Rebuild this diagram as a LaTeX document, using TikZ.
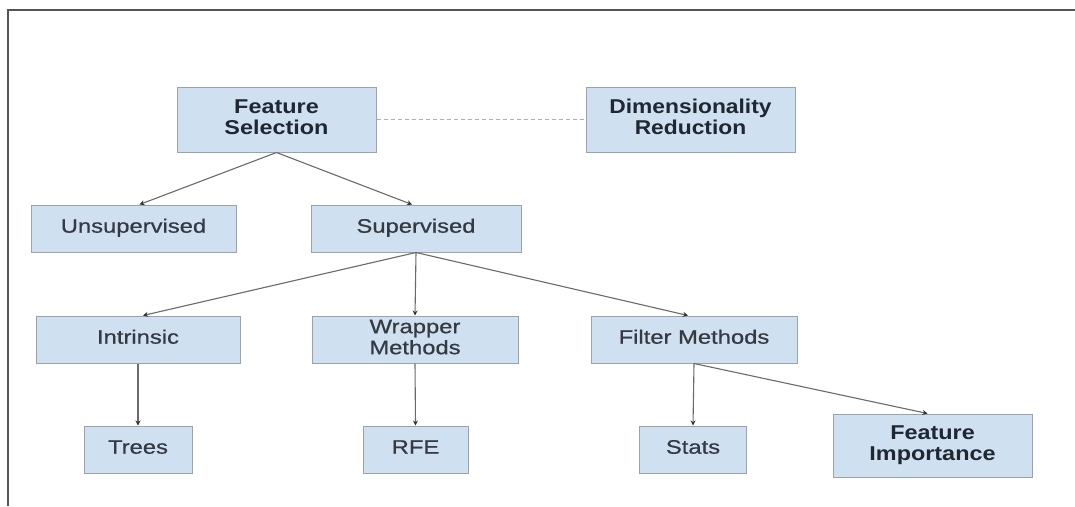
\documentclass[tikz,border=0pt]{standalone}
\usepackage{fontspec}
\setmainfont{Liberation Sans}
\newfontfamily\labelfont[FakeBold=0.6]{Liberation Sans}
\usetikzlibrary{arrows.meta,calc}
\definecolor{boxfill}{HTML}{CFE0F1}
\definecolor{boxline}{HTML}{9AA3AD}
\definecolor{linkgray}{HTML}{6A6A6A}
\definecolor{tipgray}{HTML}{333333}
\definecolor{framegray}{HTML}{555555}
\definecolor{dashgray}{HTML}{B0B0B0}
\definecolor{txt}{HTML}{353A40}
\definecolor{boldtxt}{HTML}{1F2730}
% horizontally widened label, one or two lines
\newcommand{\wlabel}[2][1.22]{\raisebox{-3.5pt}{\scalebox{#1}[1]{\begin{tabular}{@{}c@{}}#2\end{tabular}}}}
\tikzset{
  box/.style={draw=boxline, fill=boxfill, line width=1pt, inner sep=0pt,
    minimum height=47pt, text=txt, font=\labelfont\fontsize{19.5}{21}\selectfont},
  boldbox/.style={box, minimum height=65pt, text=boldtxt,
    font=\fontsize{20}{21}\selectfont\bfseries},
  link/.style={draw=linkgray, line width=1.1pt,
    -{Stealth[length=5pt,width=5pt,color=tipgray]}},
  relation/.style={draw=dashgray, line width=1.2pt, dash pattern=on 4pt off 3pt}
}
\begin{document}
\begin{tikzpicture}[x=1pt,y=-1pt]
\useasboundingbox (0,0) rectangle (1075,506);
% frame edges
\coordinate (ftl) at (8,10);
\coordinate (ftr) at (1075,10);
\coordinate (fbl) at (8,506);
\draw[framegray, line width=1.5pt] (ftr) -- (ftl) -- (fbl);

% top row
\node[boldbox, minimum width=199pt] (fs) at (276.5,119.5) {\wlabel[1.17]{Feature\\Selection}};
\node[boldbox, minimum width=209pt] (dr) at (690.5,119.5) {\wlabel[1.14]{Dimensionality\\Reduction}};

% second row
\node[box, minimum width=205pt] (unsup) at (133.5,228.5) {\wlabel{Unsupervised}};
\node[box, minimum width=210pt] (sup) at (416,228.5) {\wlabel{Supervised}};

% third row
\node[box, minimum width=204pt] (intr) at (138,339.5) {\wlabel{Intrinsic}};
\node[box, minimum width=206pt] (wrap) at (415,339.5) {\wlabel{Wrapper\\Methods}};
\node[box, minimum width=206pt] (filt) at (694,339.5) {\wlabel{Filter Methods}};

% leaves
\node[box, minimum width=108pt] (trees) at (138,449.5) {\wlabel{Trees}};
\node[box, minimum width=105pt] (rfe) at (415.5,449.5) {\wlabel{RFE}};
\node[box, minimum width=107pt] (stats) at (693,449.5) {\wlabel{Stats}};
\node[boldbox, minimum width=199pt, minimum height=63pt] (fi) at (932.5,445.5) {\wlabel[1.17]{Feature\\Importance}};

% connectors
\draw[relation] (fs.east) -- (dr.west);
\draw[link] (fs.south) -- ($(unsup.north)+(6,0)$);
\draw[link] (fs.south) -- ($(sup.north)+(-4,0)$);
\draw[link] (sup.south) -- ($(intr.north)+(5,0)$);
\draw[link] (sup.south) -- (wrap.north);
\draw[link] (sup.south) -- ($(filt.north)+(-6,0)$);
\draw[link] (intr.south) -- (trees.north);
\draw[link] (wrap.south) -- (rfe.north);
\draw[link] (filt.south) -- (stats.north);
\draw[link] (filt.south) -- ($(fi.north)+(-5,0)$);
\end{tikzpicture}
\end{document}
